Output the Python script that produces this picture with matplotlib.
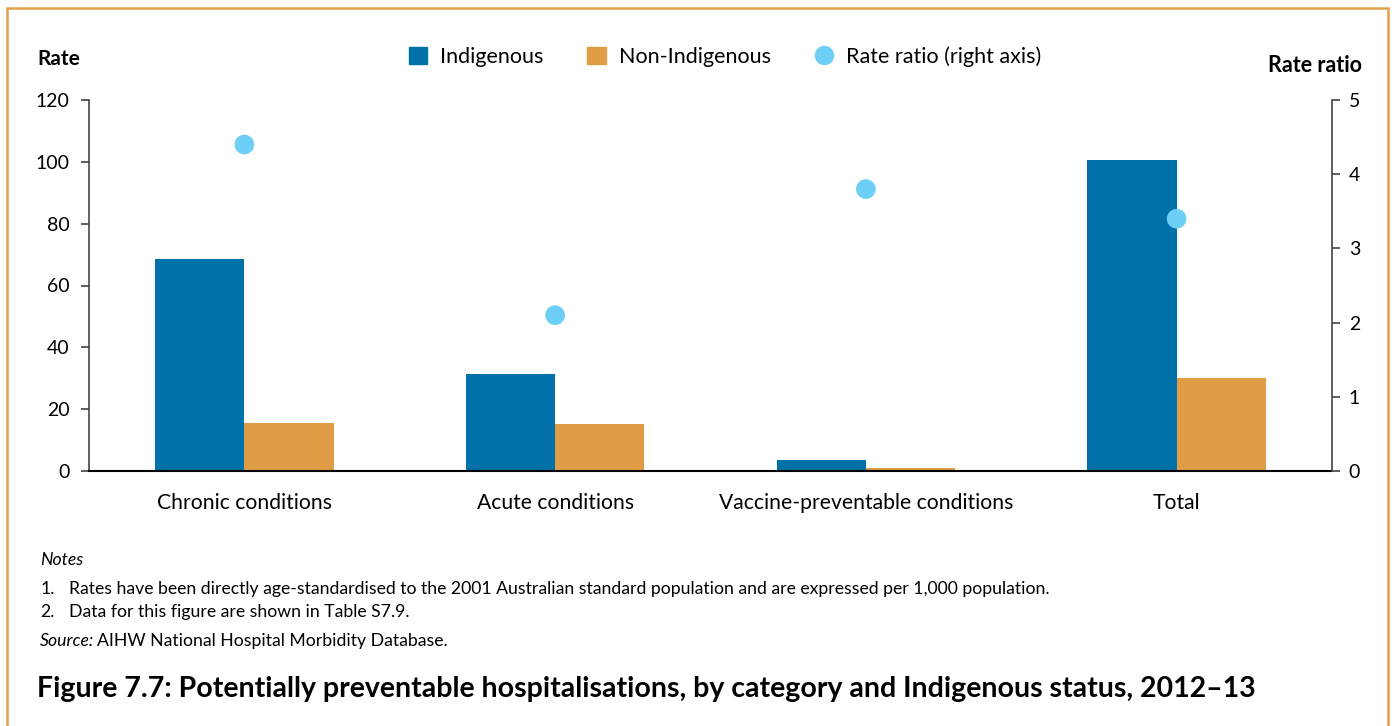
import numpy as np
import matplotlib.pyplot as plt
from matplotlib.patches import Patch, Rectangle
from matplotlib.lines import Line2D

plt.rcParams['font.family'] = ['Lato', 'DejaVu Sans']

# data
categories = ['Chronic conditions', 'Acute conditions',
              'Vaccine-preventable conditions', 'Total']
indigenous = [68.6, 31.4, 3.6, 100.6]
non_indigenous = [15.5, 15.2, 0.9, 30.1]
rate_ratio = [4.4, 2.1, 3.8, 3.4]
rate_ticks = [0, 20, 40, 60, 80, 100, 120]
ratio_ticks = [0, 1, 2, 3, 4, 5]

blue = '#0072A9'
orange = '#E09D45'
light_blue = '#6DCFF6'
frame = '#E2A04A'

W, H = 1392, 726
fig = plt.figure(figsize=(W / 100, H / 100), dpi=100)


def fx(x):
    return x / W


def fy(y):
    return 1 - y / H


# main axes (pixel box of the plot area)
ax = fig.add_axes([fx(89), fy(471), (1332 - 89) / W, 371 / H])
x = np.arange(len(categories))
w = 0.287
ax.bar(x - w / 2, indigenous, w, color=blue, label='Indigenous')
ax.bar(x + w / 2, non_indigenous, w, color=orange, label='Non-Indigenous')
ax.set_xlim(-0.5, 3.5)
ax.set_ylim(0, 120)
ax.set_yticks(rate_ticks)
ax.set_xticks(x)
ax.set_xticklabels(categories, fontsize=15.2)
ax.tick_params(axis='x', length=0, pad=16)
ax.tick_params(axis='y', direction='out', length=6, width=1.2,
               color='#444444', labelsize=14, pad=8)
for s in ['top', 'right']:
    ax.spines[s].set_visible(False)
ax.spines['left'].set_color('#444444')
ax.spines['left'].set_linewidth(1.2)
ax.spines['bottom'].set_color('black')
ax.spines['bottom'].set_linewidth(1.5)

# right axis for the rate ratio
ax2 = ax.twinx()
ax2.scatter(x, rate_ratio, s=200, color=light_blue, zorder=3,
            edgecolors='none')
ax2.set_ylim(0, 5)
ax2.set_yticks(ratio_ticks)
ax2.tick_params(axis='y', direction='out', length=6, width=1.2,
                color='#444444', labelsize=14, pad=6)
for s in ['top', 'left', 'bottom']:
    ax2.spines[s].set_visible(False)
ax2.spines['right'].set_color('#444444')
ax2.spines['right'].set_linewidth(1.2)

# axis titles
fig.text(fx(37), fy(59), 'Rate', fontsize=15, fontweight='bold',
         ha='left', va='center')
fig.text(fx(1362), fy(65), 'Rate ratio', fontsize=15.5, fontweight='bold',
         ha='right', va='center')

# legend
handles = [
    Patch(color=blue, label='Indigenous'),
    Patch(color=orange, label='Non-Indigenous'),
    Line2D([], [], marker='o', ls='none', markersize=14,
           markerfacecolor=light_blue, markeredgecolor='none',
           label='Rate ratio (right axis)'),
]
fig.legend(handles=handles, loc='center', bbox_to_anchor=(fx(725), fy(57)),
           ncol=3, frameon=False, fontsize=15.5, handlelength=0.85,
           handleheight=0.85, handletextpad=0.6, columnspacing=2.05)

# notes
fs = 12.7
fig.text(fx(40), fy(560), 'Notes', fontsize=fs, style='italic',
         va='center')
fig.text(fx(40), fy(589), '1.', fontsize=fs, va='center')
fig.text(fx(69), fy(589),
         'Rates have been directly age-standardised to the 2001 Australian '
         'standard population and are expressed per 1,000 population.',
         fontsize=fs, va='center')
fig.text(fx(40), fy(612), '2.', fontsize=fs, va='center')
fig.text(fx(69), fy(612), 'Data for this figure are shown in Table S7.9.',
         fontsize=fs, va='center')
src = fig.text(fx(40), fy(641), 'Source:', fontsize=fs, style='italic',
               va='center')
r = fig.canvas.get_renderer()
bb = src.get_window_extent(renderer=r)
fig.text(bb.x1 / W + 3 / W, fy(641), 'AIHW National Hospital Morbidity Database.',
         fontsize=fs, va='center')

fig.text(fx(37), fy(689),
         'Figure 7.7: Potentially preventable hospitalisations, by category '
         'and Indigenous status, 2012\u201313',
         fontsize=20.5, fontweight='bold', va='center')

# orange frame, open at the bottom
fig.add_artist(Rectangle((fx(7), -0.05), (1388 - 7) / W, fy(8) + 0.05,
                         transform=fig.transFigure, fill=False,
                         edgecolor=frame, linewidth=1.8))

fig.savefig('out.png', dpi=100)
